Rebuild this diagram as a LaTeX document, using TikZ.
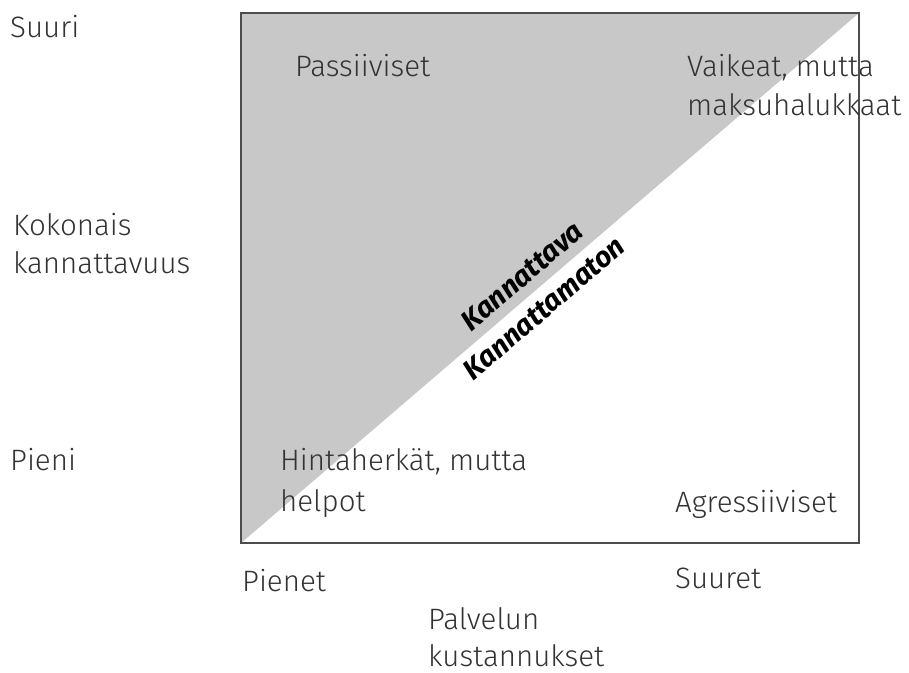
\documentclass[tikz,border=0pt]{standalone}
\usepackage{fontspec}
\setmainfont{Fira Sans}[UprightFont={* Light}, BoldFont={* Bold}, BoldItalicFont={* Bold Italic}]
\definecolor{txt}{HTML}{333333}
\definecolor{graybg}{HTML}{C8C8C8}
\definecolor{framecol}{HTML}{4D4D4D}
\begin{document}
\begin{tikzpicture}[x=1pt,y=-1pt,
  lbl/.style={anchor=base west, inner sep=0pt, font=\fontsize{29.5}{39}\selectfont, text=txt},
  diag/.style={font=\fontsize{28.5}{32}\selectfont\bfseries\itshape, rotate=40.6, inner sep=0pt, text=black}]
\useasboundingbox (0,0) rectangle (909,672);
\coordinate (bl) at (241,543);
\coordinate (tr) at (859,13);
\coordinate (tl) at (241,13);
\coordinate (br) at (859,543);
\fill[graybg] (bl) -- (tl) -- (tr) -- cycle;
\draw[framecol, line width=1.5pt] (bl) rectangle (tr);
\node[lbl] (suuri) at (10,37) {Suuri};
\node[lbl] (koko1) at (13,235) {Kokonais};
\node[lbl] (koko2) at (13,273) {kannattavuus};
\node[lbl] (pieni) at (10,470) {Pieni};
\node[lbl] (pass) at (295,76) {Passiiviset};
\node[lbl] (vai1) at (687,76) {Vaikeat, mutta};
\node[lbl] (vai2) at (687,115) {maksuhalukkaat};
\node[lbl] (hin1) at (280,470) {Hintaherkät, mutta};
\node[lbl] (hin2) at (280,511) {helpot};
\node[lbl] (agr) at (675,512) {Agressiiviset};
\node[lbl] (pienet) at (242,591) {Pienet};
\node[lbl] (suuret) at (675,588) {Suuret};
\node[lbl] (pal1) at (428,629) {Palvelun};
\node[lbl] (pal2) at (428,666) {kustannukset};
\node[diag] (kan) at (522,276) {Kannattava};
\node[diag] (kanm) at (544,308) {Kannattamaton};
\end{tikzpicture}
\end{document}
